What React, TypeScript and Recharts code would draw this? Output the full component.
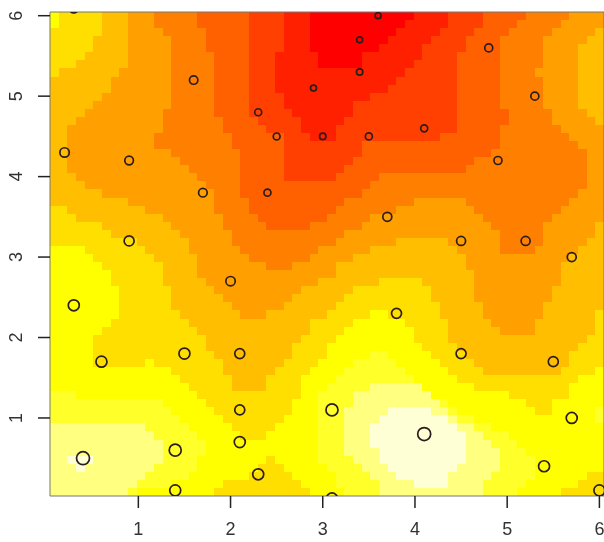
import React from "react";
import { ScatterChart, Scatter, XAxis, YAxis, ReferenceArea, ZAxis } from "recharts";

// heat.colors(12) : one colour per level, from hot to pale
const levelColors = ["#FF0000","#FF2000","#FF4000","#FF6000","#FF8000","#FF9F00","#FFBF00","#FFDF00","#FFFF00","#FFFF2A","#FFFF80","#FFFFD5"];

// Surface: each row, top to bottom, is "level:endColumn" runs (a=10, b=11)
const levelRows = [
"8:1 7:6 6:9 5:12 4:17 3:23 2:27 1:30 0:42 1:46 2:50 3:55 4:60 5:64",
"8:1 7:6 6:9 5:12 4:17 3:23 2:27 1:30 0:41 1:46 2:50 3:54 4:59 5:64",
"7:6 6:9 5:13 4:18 3:23 2:27 1:30 0:40 1:45 2:49 3:53 4:58 5:63 6:64",
"7:5 6:9 5:14 4:18 3:23 2:27 1:30 0:39 1:44 2:48 3:52 4:57 5:62 6:64",
"7:5 6:9 5:14 4:18 3:23 2:27 1:30 0:38 1:43 2:48 3:52 4:57 5:61 6:64",
"7:4 6:9 5:14 4:19 3:23 2:26 1:31 0:36 1:43 2:47 3:52 4:57 5:61 6:64",
"7:3 6:9 5:14 4:19 3:23 2:26 1:31 0:36 1:42 2:47 3:52 4:57 5:61 6:64",
"7:1 6:8 5:14 4:19 3:23 2:26 1:41 2:47 3:52 4:56 5:61 6:64",
"6:7 5:14 4:19 3:23 2:26 1:40 2:47 3:52 4:57 5:61 6:64",
"6:7 5:14 4:19 3:23 2:26 1:39 2:47 3:52 4:57 5:61 6:64",
"6:6 5:14 4:19 3:23 2:27 1:37 2:47 3:52 4:57 5:61 6:64",
"6:5 5:14 4:19 3:23 2:27 1:35 2:47 3:52 4:57 5:61 6:64",
"6:4 5:13 4:19 3:23 2:28 1:35 2:47 3:53 4:58 5:62 6:64",
"6:3 5:13 4:20 3:24 2:29 1:34 2:47 3:53 4:58 5:63 6:64",
"6:2 5:13 4:20 3:25 2:29 1:33 2:47 3:52 4:59 5:64",
"6:2 5:12 4:21 3:27 2:30 1:33 2:45 3:52 4:60 5:64",
"6:2 5:12 4:21 3:27 2:36 3:52 4:61 5:64",
"6:2 5:14 4:22 3:27 2:36 3:51 4:62 5:64",
"6:2 5:15 4:22 3:27 2:35 3:49 4:62 5:64",
"6:2 5:16 4:22 3:27 2:34 3:48 4:62 5:64",
"6:3 5:17 4:22 3:27 2:33 3:38 4:62 5:64",
"6:4 5:18 4:22 3:37 4:62 5:64",
"6:6 5:19 4:22 3:36 4:61 5:64",
"6:9 5:19 4:23 3:34 4:42 5:48 4:60 5:64",
"7:2 6:11 5:19 4:23 3:33 4:40 5:49 4:59 5:64",
"7:3 6:13 5:20 4:24 3:32 4:37 5:50 4:58 5:64",
"7:6 6:14 5:20 4:25 3:30 4:36 5:51 4:57 5:63 6:64",
"7:7 6:15 5:21 4:34 5:52 4:57 5:63 6:64",
"7:10 6:16 5:21 4:33 5:40 6:46 5:52 4:57 5:62 6:64",
"8:4 7:11 6:16 5:22 4:31 5:37 6:47 5:52 4:56 5:61 6:64",
"8:5 7:12 6:17 5:23 4:30 5:35 6:48 5:60 6:64",
"8:6 7:13 6:17 5:25 4:28 5:33 6:48 5:59 6:64",
"8:7 7:13 6:17 5:33 6:49 5:59 6:64",
"8:7 7:13 6:18 5:31 6:38 7:43 6:49 5:59 6:64",
"8:8 7:14 6:19 5:29 6:35 7:44 6:49 5:58 6:64",
"8:8 7:14 6:20 5:28 6:34 7:44 6:49 5:58 6:64",
"8:8 7:14 6:21 5:27 6:33 7:45 6:50 5:57 6:64",
"8:8 7:15 6:22 5:25 6:32 7:37 8:39 7:45 6:50 5:57 6:63 7:64",
"8:7 7:16 6:30 7:35 8:41 7:46 6:51 5:56 6:63 7:64",
"8:6 7:17 6:30 7:34 8:42 7:46 6:52 5:56 6:63 7:64",
"8:5 7:18 6:29 7:33 8:42 7:46 6:62 7:64",
"8:5 7:18 6:28 7:32 8:43 7:47 6:61 7:64",
"8:5 7:19 6:28 7:32 8:37 9:39 8:44 7:48 6:60 7:64",
"8:5 7:11 8:12 7:20 6:27 7:31 8:35 9:40 8:45 7:49 6:60 7:64",
"8:14 7:20 6:26 7:30 8:34 9:41 8:46 7:50 6:59 7:63 8:64",
"8:15 7:21 6:25 7:29 8:33 9:42 8:47 7:61 8:64",
"8:16 7:21 6:25 7:29 8:32 9:37 a:43 8:49 7:60 8:64",
"9:3 8:17 7:29 8:31 9:35 a:44 8:53 7:60 8:64",
"9:13 8:18 7:28 8:31 9:35 a:45 9:46 8:55 7:58 8:64",
"9:14 8:19 7:28 8:31 9:34 a:39 b:44 a:46 9:47 8:56 7:58 8:63 9:64",
"9:15 8:20 7:27 8:31 9:34 a:38 b:46 a:47 9:49 8:63 9:64",
"a:11 9:16 8:21 7:26 8:31 9:34 a:37 b:47 a:49 9:51 8:64",
"a:12 9:17 8:22 7:25 8:31 9:34 a:37 b:48 a:50 9:53 8:64",
"a:13 9:18 8:31 9:34 a:37 b:48 a:51 9:54 8:64",
"a:13 9:18 8:31 9:34 a:38 b:48 a:52 9:55 8:64",
"a:2 b:5 a:13 9:17 8:25 7:26 8:31 9:35 a:38 b:48 a:52 9:56 8:64",
"a:3 b:4 a:12 9:17 8:24 7:27 8:32 9:36 a:39 b:47 a:52 9:56 8:64",
"a:11 9:16 8:23 7:28 8:33 9:37 a:40 b:46 a:51 9:56 8:62 7:64",
"a:10 9:14 8:20 7:29 8:33 9:38 a:42 b:46 a:50 9:55 8:61 7:64",
"a:9 9:10 8:19 7:30 8:34 9:38 a:50 9:54 8:59 7:64",
];

const pointX = [0.3,1.6,2.3,2.5,0.2,0.9,1.7,2.4,0.9,3.6,3.4,3.4,2.9,3.0,3.5,4.1,4.8,5.3,4.9,3.7,4.5,5.2,5.7,2.0,0.3,0.6,1.5,2.1,2.1,1.4,0.4,2.1,2.3,1.4,3.8,4.5,5.5,3.1,5.7,4.1,5.4,3.1,6.0];
const pointY = [6.09,5.2,4.8,4.5,4.3,4.2,3.8,3.8,3.2,6.0,5.7,5.3,5.1,4.5,4.5,4.6,5.6,5.0,4.2,3.5,3.2,3.2,3.0,2.7,2.4,1.7,1.8,1.8,1.1,0.6,0.5,0.7,0.3,0.1,2.3,1.8,1.7,1.1,1.0,0.8,0.4,0.0,0.1];
const pointR = [4.5,4.2,3.5,3.4,4.7,4.3,4.3,3.5,5,3,3,3.2,3,3.2,3.5,3.5,4,4,4,4.5,4.5,4.5,4.5,4.7,5.5,5.5,5.5,5,5,6,6.5,5.5,5.5,5.5,5,5,5,6,5.5,6.5,5.5,5.5,5.5];

const axisTicks = [1, 2, 3, 4, 5, 6];
const xDomain: [number, number] = [0.042, 6.05];
const yDomain: [number, number] = [0.03, 6.046];
const gridCols = 64;

const colWidth = (xDomain[1] - xDomain[0]) / gridCols;
const rowHeight = (yDomain[1] - yDomain[0]) / levelRows.length;

const runs = levelRows.flatMap((row, r) => {
  let start = 0;
  return row.split(" ").map((part) => {
    const [lv, end] = part.split(":");
    const run = { level: parseInt(lv, 16), from: start, to: Number(end), row: r };
    start = run.to;
    return run;
  });
});

const points = pointX.map((x, i) => ({ x, y: pointY[i], r: pointR[i] }));

const labelStyle = { fontFamily: "Liberation Sans, Arial, sans-serif", fontSize: 18, fill: "#333" };

const XTick = (p: any) => (
  <text x={p.x} y={p.y + 25} textAnchor="middle" style={labelStyle}>{p.payload.value}</text>
);
const YTick = (p: any) => (
  <text transform={`translate(${p.x - 14},${p.y}) rotate(-90)`} textAnchor="middle" style={labelStyle}>{p.payload.value}</text>
);

const Cell = (p: any) => (
  <rect x={p.x} y={p.y} width={p.width} height={p.height} fill={p.fill} shapeRendering="crispEdges" />
);

const Ring = (p: any) => (
  <circle cx={p.cx} cy={p.cy} r={p.payload.r} fill="none" stroke="#2b1d1d" strokeWidth={1.7} />
);

export default function App() {
  return (
    <div style={{ position: "absolute", left: 0, top: 0, width: 604, height: 542, background: "#fff", filter: "blur(0.7px)" }}>
      <ScatterChart width={604} height={542} margin={{ top: 12, right: 0, bottom: 0, left: 0 }}>
        <XAxis type="number" dataKey="x" domain={xDomain} ticks={axisTicks} allowDataOverflow height={46}
          axisLine={false} tickSize={12} tickLine={{ stroke: "#222", strokeWidth: 1.5 }} tick={XTick} interval={0} />
        <YAxis type="number" dataKey="y" domain={yDomain} ticks={axisTicks} allowDataOverflow width={50}
          axisLine={false} tickSize={12} tickLine={{ stroke: "#222", strokeWidth: 1.5 }} tick={YTick} interval={0} />
        <ZAxis type="number" dataKey="r" range={[60, 60]} />
        {runs.map((c, i) => (
          <ReferenceArea key={i}
            x1={xDomain[0] + c.from * colWidth} x2={xDomain[0] + c.to * colWidth}
            y1={yDomain[1] - c.row * rowHeight} y2={yDomain[1] - (c.row + 1) * rowHeight}
            fill={levelColors[c.level]} fillOpacity={1} stroke="none" shape={Cell} ifOverflow="visible" />
        ))}
        <ReferenceArea x1={xDomain[0]} x2={xDomain[1]} y1={yDomain[0]} y2={yDomain[1]} fill="none" stroke="#777" strokeWidth={1} ifOverflow="visible" />
        <Scatter data={points} isAnimationActive={false} shape={Ring} />
      </ScatterChart>
    </div>
  );
}
